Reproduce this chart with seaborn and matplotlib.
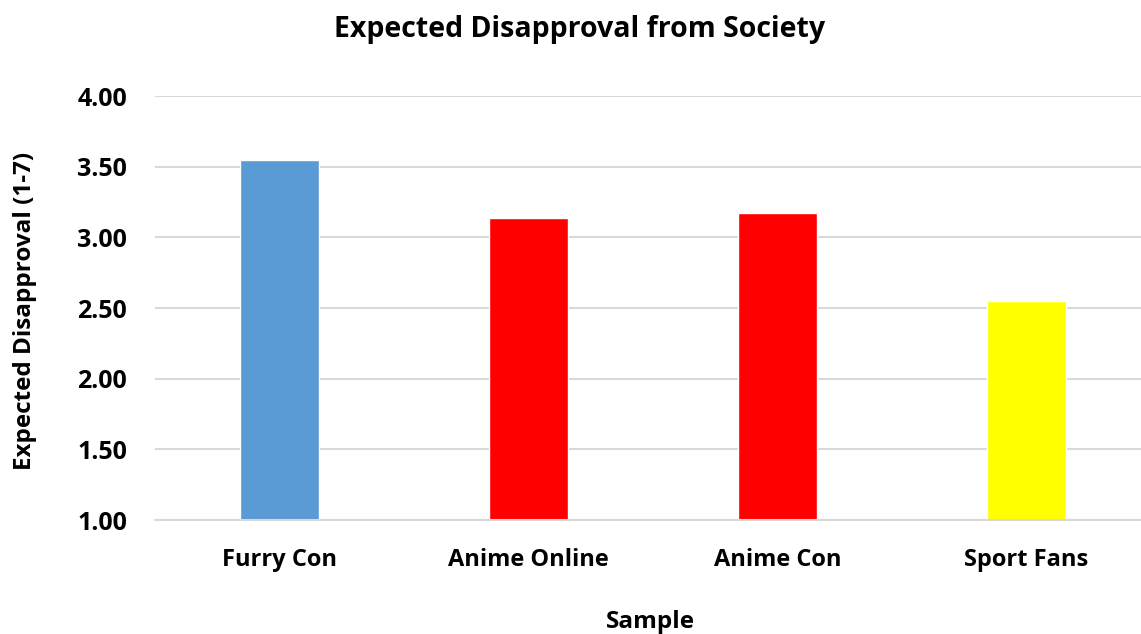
import pandas as pd
import matplotlib
matplotlib.use('Agg')
import matplotlib.pyplot as plt
import seaborn as sns

# Datos del gráfico
categorias = ['Furry Con', 'Anime Online', 'Anime Con', 'Sport Fans']
valores = [3.55, 3.14, 3.17, 2.55]
colores = ['#5B9BD5', '#FF0000', '#FF0000', '#FFFF00']
ticks_y = [1.0, 1.5, 2.0, 2.5, 3.0, 3.5, 4.0]

df = pd.DataFrame({'Sample': categorias, 'Valor': valores})

sns.set_style('white')
plt.rcParams['font.family'] = ['Open Sans', 'DejaVu Sans']
plt.rcParams['text.color'] = 'black'
plt.rcParams['xtick.color'] = 'black'
plt.rcParams['ytick.color'] = 'black'
plt.rcParams['axes.labelcolor'] = 'black'

fig = plt.figure(figsize=(11.41, 6.34), dpi=100)
ax = fig.add_axes([155 / 1141, 114 / 634, 996 / 1141, 424 / 634])

sns.barplot(data=df, x='Sample', y='Valor', hue='Sample', palette=colores,
            legend=False, width=0.317, ax=ax, saturation=1)

# Eje y desde 1 (las barras empiezan en 1.00)
for p in ax.patches:
    p.set_y(1.0)
    p.set_height(p.get_height() - 1.0)

ax.set_ylim(1, 4)
ax.set_xlim(-0.5, 3.5)
ax.set_yticks(ticks_y)
ax.set_yticklabels([f'{t:.2f}' for t in ticks_y])
ax.yaxis.grid(True, color='#D9D9D9', linewidth=1.5)
ax.set_axisbelow(True)
for s in ['top', 'right', 'left']:
    ax.spines[s].set_visible(False)
ax.spines['bottom'].set_color('#D9D9D9')
ax.spines['bottom'].set_linewidth(1.5)
ax.tick_params(axis='both', length=0)
ax.tick_params(axis='y', pad=20, labelsize=18)
ax.tick_params(axis='x', pad=20, labelsize=17)
for lbl in ax.get_xticklabels() + ax.get_yticklabels():
    lbl.set_fontweight('bold')

ax.set_xlabel('Sample', fontsize=17.5, fontweight='bold', va='center')
ax.xaxis.set_label_coords(0.497, -0.2406)
ax.set_ylabel('Expected Disapproval (1-7)', fontsize=17.5, fontweight='bold', va='center')
ax.yaxis.set_label_coords(-0.1305, 0.493)
fig.text(580 / 1141, 1 - 30 / 634, 'Expected Disapproval from Society',
         ha='center', va='center', fontsize=20.5, fontweight='bold')

fig.savefig('out.png', dpi=100)
